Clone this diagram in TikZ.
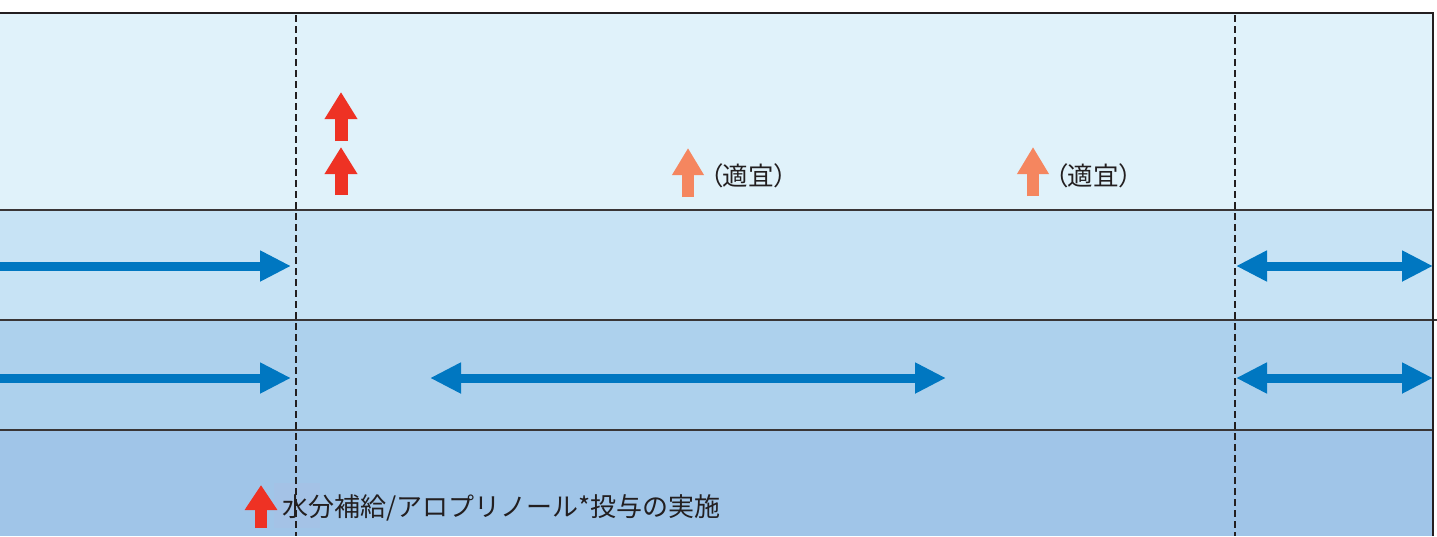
\documentclass[tikz,border=0pt]{standalone}
\usepackage{fontspec}
\newfontfamily\jp{Noto Sans CJK JP}
\newfontfamily\jpp[RawFeature=+palt]{Noto Sans CJK JP}
\usetikzlibrary{arrows.meta}
\definecolor{rowA}{HTML}{E0F2FA}
\definecolor{rowB}{HTML}{C7E3F5}
\definecolor{rowC}{HTML}{ADD1ED}
\definecolor{rowD}{HTML}{A0C5E8}
\definecolor{boxD}{HTML}{A4C2E6}
\definecolor{bluearr}{HTML}{0077C1}
\definecolor{redarr}{HTML}{EE3224}
\definecolor{orarr}{HTML}{F5865F}
\definecolor{frame}{HTML}{231F20}
\tikzset{
  blueone/.style={draw=bluearr, line width=9pt, -{Triangle[length=31pt,width=29pt]}},
  bluetwo/.style={draw=bluearr, line width=9pt, {Triangle[length=31pt,width=29pt]}-{Triangle[length=31pt,width=29pt]}},
  redup/.style={draw=redarr, line width=13pt, -{Triangle[length=27pt,width=31pt]}},
  orup/.style={draw=orarr, line width=12pt, -{Triangle[length=27pt,width=30pt]}},
  sep/.style={draw=frame!90, line width=1.2pt},
  dashline/.style={draw=frame, line width=1.3pt, dash pattern=on 7pt off 4pt},
  lbl/.style={inner sep=0pt, anchor=west, text=frame}
}
\begin{document}
\begin{tikzpicture}[x=1pt,y=-1pt]
\useasboundingbox (0,0) rectangle (1437,536);
% rows
\fill[rowA] (0,13) rectangle (1433,210);
\fill[rowB] (0,210) rectangle (1433,320);
\fill[rowC] (0,320) rectangle (1433,430);
\fill[rowD] (0,430) rectangle (1433,536);
\fill[boxD] (274,483) rectangle (320,528);
% separators
\draw[sep] (0,210) -- (1433,210);
\draw[sep] (0,320) -- (1437,320);
\draw[sep] (0,430) -- (1433,430);
% dashed lines
\draw[dashline] (296,15) -- (296,536);
\draw[dashline] (1235,15) -- (1235,536);
% frame
\draw[frame, line width=2.2pt] (0,13) -- (1433,13) -- (1433,536);
% blue arrows
\coordinate (b1s) at (0,266); \coordinate (b1e) at (291,266);
\coordinate (b2s) at (1236,266); \coordinate (b2e) at (1433,266);
\coordinate (b3s) at (0,378); \coordinate (b3e) at (291,378);
\coordinate (b4s) at (430,378); \coordinate (b4e) at (946,378);
\coordinate (b5s) at (1236,378); \coordinate (b5e) at (1433,378);
\draw[blueone] (b1s) -- (b1e);
\draw[bluetwo] (b2s) -- (b2e);
\draw[blueone] (b3s) -- (b3e);
\draw[bluetwo] (b4s) -- (b4e);
\draw[bluetwo] (b5s) -- (b5e);
% red arrows
\coordinate (r1s) at (341,141); \coordinate (r1e) at (341,92);
\coordinate (r2s) at (341,195); \coordinate (r2e) at (341,147);
\draw[redup] (r1s) -- (r1e);
\draw[redup] (r2s) -- (r2e);
% orange arrows
\coordinate (o1s) at (688,197); \coordinate (o1e) at (688,148);
\coordinate (o2s) at (1033,196); \coordinate (o2e) at (1033,147);
\draw[orup] (o1s) -- (o1e);
\draw[orup] (o2s) -- (o2e);
\node[lbl, font=\jpp\fontsize{25.5}{27}\selectfont] (t1) at (710,176) {（適宜）};
\node[lbl, font=\jpp\fontsize{25.5}{27}\selectfont] (t2) at (1055,176) {（適宜）};
% bottom legend
\coordinate (r3s) at (261,528); \coordinate (r3e) at (261,485);
\draw[draw=redarr, line width=12pt, -{Triangle[length=25pt,width=31pt]}] (r3s) -- (r3e);
\node[lbl, font=\jp\fontsize{26}{28}\selectfont] (leg) at (282,508) {水分補給/アロプリノール*投与の実施};
\end{tikzpicture}
\end{document}
